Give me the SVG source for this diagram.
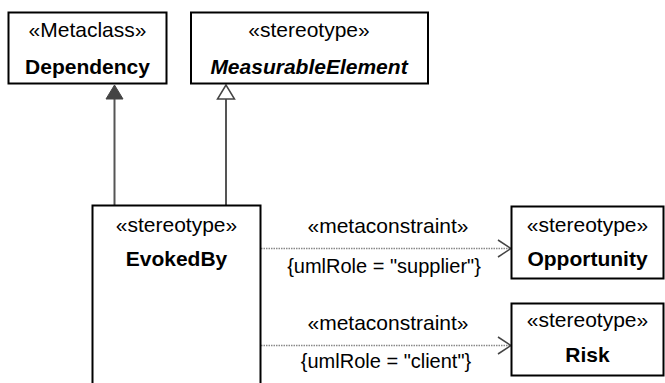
<svg xmlns="http://www.w3.org/2000/svg" width="665" height="383" viewBox="0 0 665 383">
<defs>
<style>
.box{fill:#fff;stroke:#000;stroke-width:2}
text{font-family:"Liberation Sans",Arial,sans-serif;font-size:21px;fill:#000;text-anchor:middle}
.b{font-weight:bold}
.bi{font-weight:bold;font-style:italic}
.lbl{font-size:20px}
.gen{stroke:#555;stroke-width:2;fill:none}
.dep{stroke:#888;stroke-width:1.5;stroke-dasharray:1.5,1;fill:none}
.open{stroke:#444;stroke-width:1.5;fill:none}
</style>
</defs>
<rect width="665" height="383" fill="#fff"/>
<g id="connectors">
<line class="gen" x1="114.5" y1="205" x2="114.5" y2="98"/>
<polygon points="114.5,85 106,99 123,99" fill="#444" stroke="#444" stroke-width="1"/>
<line class="gen" x1="226" y1="205" x2="226" y2="98"/>
<polygon points="226,85 217.5,99 234.5,99" fill="#fff" stroke="#444" stroke-width="1.5"/>
<line class="dep" x1="261" y1="248.5" x2="511" y2="248.5"/>
<polyline class="open" points="498,240 511,248.5 498,257"/>
<text x="388" y="233">«metaconstraint»</text>
<text class="lbl" x="384" y="273">{umlRole = "supplier"}</text>
<line class="dep" x1="261" y1="345.5" x2="511" y2="345.5"/>
<polyline class="open" points="498,337 511,345.5 498,354"/>
<text x="388" y="330">«metaconstraint»</text>
<text class="lbl" x="386" y="368">{umlRole = "client"}</text>
</g>
<g id="Dependency">
<rect class="box" x="8.5" y="12.5" width="158" height="71"/>
<text x="87.5" y="37">«Metaclass»</text>
<text class="b" x="87.5" y="74">Dependency</text>
</g>
<g id="MeasurableElement">
<rect class="box" x="191" y="12.5" width="237" height="71"/>
<text x="309" y="37">«stereotype»</text>
<text class="bi" x="309" y="74">MeasurableElement</text>
</g>
<g id="EvokedBy">
<rect class="box" x="92.5" y="205.5" width="168" height="190"/>
<text x="176.5" y="232">«stereotype»</text>
<text class="b" x="176.5" y="266">EvokedBy</text>
</g>
<g id="Opportunity">
<rect class="box" x="511.5" y="206.5" width="152" height="72"/>
<text x="587.5" y="232">«stereotype»</text>
<text class="b" x="587.5" y="266">Opportunity</text>
</g>
<g id="Risk">
<rect class="box" x="511.5" y="303.5" width="152" height="72"/>
<text x="587.5" y="327">«stereotype»</text>
<text class="b" x="587.5" y="362">Risk</text>
</g>
</svg>
